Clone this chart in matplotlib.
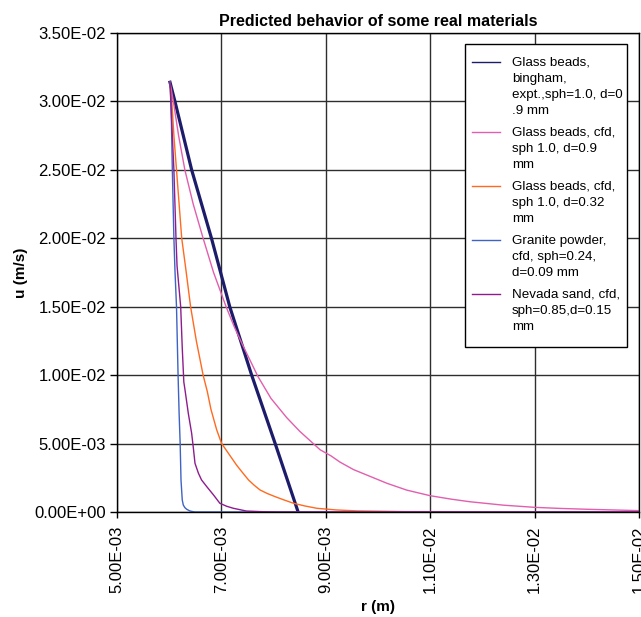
import numpy as np
import matplotlib
matplotlib.use("Agg")
import matplotlib.pyplot as plt
from matplotlib.ticker import FuncFormatter, FixedLocator
from matplotlib.patches import Rectangle

plt.rcParams['font.family'] = ['Liberation Sans', 'DejaVu Sans']

# ---- data ----
title = "Predicted behavior of some real materials"
xlabel = "r (m)"
ylabel = "u (m/s)"
x_ticks = [5e-3, 7e-3, 9e-3, 1.1e-2, 1.3e-2, 1.5e-2]
y_ticks = [0, 5e-3, 1e-2, 1.5e-2, 2e-2, 2.5e-2, 3e-2, 3.5e-2]

labels = [
    "Glass beads,\nbingham,\nexpt.,sph=1.0, d=0\n.9 mm",
    "Glass beads, cfd,\nsph 1.0, d=0.9\nmm",
    "Glass beads, cfd,\nsph 1.0, d=0.32\nmm",
    "Granite powder,\ncfd, sph=0.24,\nd=0.09 mm",
    "Nevada sand, cfd,\nsph=0.85,d=0.15\nmm",
]
colors = ['#1c1c6b', '#e25eae', '#ff6a20', '#3f63c4', '#8e1c8e']
widths = [2.3, 1.0, 1.0, 1.0, 1.0]

# r in m, u in m/s
bingham_r = [6.015e-3, 6.11e-3, 6.43e-3, 6.81e-3, 7.16e-3, 7.58e-3, 8.03e-3, 8.47e-3]
bingham_u = [0.0314, 0.030, 0.025, 0.020, 0.015, 0.010, 0.005, 0.0]

gb09_r = [6.015e-3, 6.08e-3, 6.18e-3, 6.30e-3, 6.46e-3, 6.65e-3, 6.85e-3, 7.09e-3,
          7.25e-3, 7.42e-3, 7.56e-3, 7.70e-3, 7.95e-3, 8.25e-3, 8.50e-3, 8.76e-3,
          8.89e-3, 9.10e-3, 9.27e-3, 9.53e-3, 9.85e-3, 1.017e-2, 1.055e-2, 1.10e-2,
          1.14e-2, 1.176e-2, 1.24e-2, 1.30e-2, 1.35e-2, 1.40e-2, 1.45e-2, 1.50e-2]
gb09_u = [0.0314, 0.030, 0.0275, 0.025, 0.0225, 0.020, 0.0175, 0.015,
          0.0135, 0.0121, 0.0110, 0.0099, 0.0083, 0.0069, 0.0059, 0.0050,
          0.00455, 0.0041, 0.00365, 0.0031, 0.0026, 0.0021, 0.0016, 0.00119,
          0.00094, 0.00075, 0.00050, 0.00034, 0.00026, 0.00020, 0.00015, 0.00010]

gb032_r = [6.015e-3, 6.05e-3, 6.09e-3, 6.14e-3, 6.19e-3, 6.24e-3, 6.32e-3, 6.41e-3,
           6.52e-3, 6.65e-3, 6.73e-3, 6.80e-3, 6.91e-3, 7.005e-3, 7.15e-3, 7.29e-3,
           7.40e-3, 7.52e-3, 7.63e-3, 7.74e-3, 7.88e-3, 8.03e-3, 8.20e-3, 8.38e-3,
           8.60e-3, 8.83e-3, 9.20e-3, 9.60e-3, 1.05e-2, 1.50e-2]
gb032_u = [0.0314, 0.030, 0.0275, 0.025, 0.0225, 0.020, 0.0177, 0.015,
           0.0125, 0.010, 0.0088, 0.0075, 0.0060, 0.0050, 0.0042, 0.00343,
           0.0029, 0.00234, 0.00195, 0.00161, 0.00135, 0.00112, 0.00088, 0.00064,
           0.00044, 0.00027, 0.00015, 0.00008, 0.00003, 0.0]

granite_r = [6.015e-3, 6.035e-3, 6.06e-3, 6.09e-3, 6.11e-3, 6.14e-3, 6.17e-3, 6.19e-3,
             6.21e-3, 6.226e-3, 6.25e-3, 6.27e-3, 6.30e-3, 6.335e-3, 6.40e-3, 6.49e-3,
             1.50e-2]
granite_u = [0.0314, 0.030, 0.025, 0.020, 0.0177, 0.015, 0.010, 0.0072,
             0.005, 0.00234, 0.00088, 0.00051, 0.00032, 0.0002, 0.00007, 0.0,
             0.0]

nevada_r = [6.015e-3, 6.03e-3, 6.06e-3, 6.09e-3, 6.11e-3, 6.13e-3, 6.15e-3, 6.22e-3,
            6.25e-3, 6.28e-3, 6.30e-3, 6.366e-3, 6.43e-3, 6.46e-3, 6.494e-3, 6.56e-3,
            6.62e-3, 6.72e-3, 6.85e-3, 6.97e-3, 7.10e-3, 7.23e-3, 7.48e-3, 7.80e-3,
            8.10e-3, 1.50e-2]
nevada_u = [0.0314, 0.030, 0.0275, 0.025, 0.0225, 0.020, 0.0180, 0.015,
            0.0120, 0.0095, 0.0090, 0.00721, 0.00575, 0.00477, 0.00356, 0.00283,
            0.00234, 0.00185, 0.00124, 0.00064, 0.00042, 0.00027, 0.00007, 0.00002,
            0.0, 0.0]

series_r = [bingham_r, gb09_r, gb032_r, granite_r, nevada_r]
series_u = [bingham_u, gb09_u, gb032_u, granite_u, nevada_u]

# ---- figure ----
W, H, DPI = 641, 617, 100
fig = plt.figure(figsize=(W / DPI, H / DPI), dpi=DPI)
ax = fig.add_axes([117 / W, 1 - 512 / H, 522 / W, 479 / H])

for r, u, lab, c, lw in zip(series_r, series_u, labels, colors, widths):
    ax.plot(r, u, color=c, lw=lw, label=lab, solid_joinstyle='round')

ax.set_xlim(5e-3, 1.5e-2)
ax.set_ylim(0, 0.035)
ax.xaxis.set_major_locator(FixedLocator(x_ticks))
ax.yaxis.set_major_locator(FixedLocator(y_ticks))
fmt = FuncFormatter(lambda v, p: f"{v:.2E}")
ax.xaxis.set_major_formatter(fmt)
ax.yaxis.set_major_formatter(fmt)
ax.tick_params(axis='x', labelsize=12, rotation=90, direction='out', length=4, pad=6, width=1)
ax.tick_params(axis='y', labelsize=12, direction='out', length=5, pad=3, width=1)
ax.grid(True, color='#2e2e2e', lw=1.0)
ax.set_axisbelow(True)
for s in ax.spines.values():
    s.set_color('black')
    s.set_linewidth(1.0)

ax.set_title(title, fontsize=11.5, fontweight='bold', pad=5)
ax.set_xlabel(xlabel, fontsize=11, fontweight='bold')
ax.set_ylabel(ylabel, fontsize=11, fontweight='bold')
ax.xaxis.set_label_coords(0.5, (512 - 600) / 479)
ax.yaxis.set_label_coords((28 - 117) / 522, 0.5)

# legend frame drawn as a box, entries placed inside it
def ax_x(px):
    return (px - 117) / 522

def ax_y(py):
    return (512 - py) / 479

frame = Rectangle((ax_x(465), ax_y(347)), ax_x(627.3) - ax_x(465), ax_y(44) - ax_y(347),
                  transform=ax.transAxes, facecolor='white', edgecolor='black',
                  lw=1.0, zorder=4.8, clip_on=False)
ax.add_patch(frame)

LFS = 9.6
leg = ax.legend(loc='upper left', bbox_to_anchor=(ax_x(471.7), ax_y(56.5)), borderaxespad=0,
                frameon=False, fontsize=LFS, handlelength=2.12, handletextpad=0.88,
                labelspacing=0.72, borderpad=0.0)
leg.set_zorder(5)
for t in leg.get_texts():
    t.set_linespacing(1.47)
for l in leg.get_lines():
    l.set_linewidth(1.0)

# align legend handles with the first line of each label
fig.canvas.draw()
renderer = fig.canvas.get_renderer()
fs_px = LFS * DPI / 72
for line, t in zip(leg.get_lines(), leg.get_texts()):
    bb = t.get_window_extent(renderer)
    target = bb.y1 - 0.40 * fs_px
    xd = np.asarray(line.get_xdata(), float)
    yd = np.asarray(line.get_ydata(), float)
    cur = line.get_transform().transform((xd[0], yd[0]))[1]
    line.set_ydata(yd + (target - cur) * 72 / DPI)

fig.savefig("out.png", dpi=DPI)
